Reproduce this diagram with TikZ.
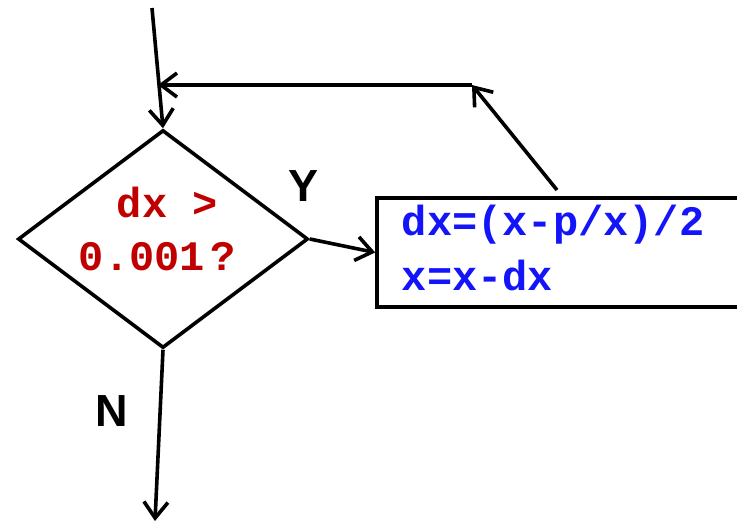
\documentclass[tikz,border=0pt]{standalone}
\usepackage{fontspec}
\setmainfont{Liberation Sans}
\setmonofont{Liberation Mono}
\usetikzlibrary{shapes.geometric,arrows.meta}
\definecolor{qred}{RGB}{192,0,0}
\definecolor{cblue}{RGB}{20,20,250}
\begin{document}
\begin{tikzpicture}[x=1pt,y=-1pt,
  line width=3.6pt,
  arr/.style={-{Straight Barb[length=16pt,width=24pt,line width=3.6pt]}},
  diam/.style={draw,diamond,aspect=1.33,inner sep=0pt,minimum width=290pt,minimum height=218pt},
  procbox/.style={draw,rectangle,inner sep=0pt,minimum width=383pt,minimum height=109pt},
  qtext/.style={font=\ttfamily\bfseries\fontsize{42}{50}\selectfont,text=qred,inner sep=0pt},
  ptext/.style={font=\ttfamily\bfseries\fontsize{42}{50}\selectfont,text=cblue,inner sep=0pt},
  lbl/.style={font=\bfseries\fontsize{45}{50}\selectfont,inner sep=0pt}]
\clip (0,0) rectangle (737,523);
\node[diam] (d) at (163,239) {};
\node[procbox] (b) at (568.5,252.5) {};
\node[qtext,anchor=base west] (q1) at (115,217) {dx >};
\node[qtext,anchor=base west] (q2) at (77,270) {0.001\hspace{6pt}?};
\node[ptext,anchor=base west] (p1) at (400,235) {dx=(x-p/x)/2};
\node[ptext,anchor=base west] (p2) at (400,290) {x=x-dx};
\node[lbl] (y) at (304,186) {Y};
\node[lbl] (n) at (112,411) {N};
\coordinate (top) at (152,8);
\coordinate (m) at (158,85);
\coordinate (c) at (472,85);
\coordinate (fb) at (557,190);
\coordinate (bot) at (155,521);
\draw[arr] (top) -- (d.north);
\draw[arr] (fb) -- (c);
\draw[arr] (c) -- (m);
\draw[arr] (d.east) -- (b.west);
\draw[arr] (d.south) -- (bot);
\end{tikzpicture}
\end{document}
